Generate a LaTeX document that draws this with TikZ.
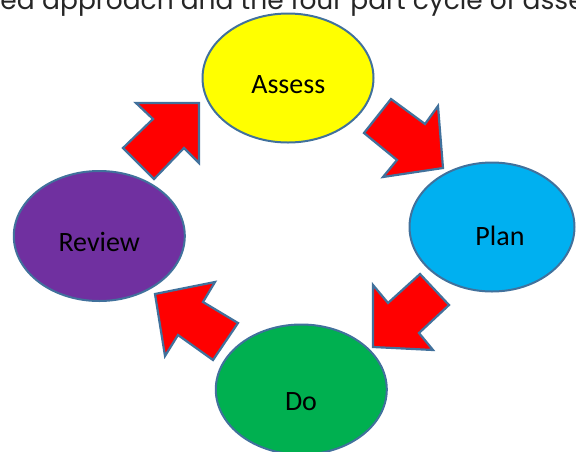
\documentclass[tikz,border=0pt]{standalone}
\usepackage{fontspec}
\setmainfont{Carlito}
\newfontfamily\headfont{Poppins}
\usetikzlibrary{shapes.geometric}
\definecolor{outl}{HTML}{41719C}
\definecolor{cyellow}{HTML}{FFFF00}
\definecolor{cblue}{HTML}{00B0F0}
\definecolor{cpurple}{HTML}{7030A0}
\definecolor{cgreen}{HTML}{00B050}
\definecolor{cred}{HTML}{FF0000}
\tikzset{
  stage/.style={ellipse, draw=outl, line width=2pt, inner sep=0pt},
  stagetext/.style={anchor=base, font=\fontsize{28}{30}\selectfont, text=black, inner sep=0pt},
  blockarrow/.style={draw=outl, fill=cred, line width=2.2pt, line join=miter},
  headtext/.style={anchor=base west, font=\headfont\fontsize{26.5}{30}\selectfont, text=black!85, inner sep=0pt}
}
\begin{document}
\begin{tikzpicture}[x=1pt,y=-1pt]
\useasboundingbox (0,0) rectangle (576,451);
\begin{scope}
\clip (0,0) rectangle (576,451);
% header line, cut off at the top of the page
\node[headtext, anchor=base east] (h0) at (35,9) {graduated};
\node[headtext] (h1) at (42,9) {approach and the four part cycle of assess};
% ellipses
\node[stage, fill=cyellow, minimum width=171pt, minimum height=129pt] (assess) at (288,78) {};
\node[stage, fill=cblue, minimum width=165pt, minimum height=129pt] (plan) at (492,227) {};
\node[stage, fill=cpurple, minimum width=171pt, minimum height=130pt] (review) at (99.3,236) {};
\node[stage, fill=cgreen, minimum width=171pt, minimum height=130pt] (do) at (301.3,389.5) {};
\node[stagetext] (assesst) at (288.3,93.3) {Assess};
\node[stagetext] (plant) at (500,245) {Plan};
\node[stagetext] (reviewt) at (99.2,251.7) {Review};
\node[stagetext] (dot) at (301,410) {Do};
% block arrows
\draw[blockarrow] (364,133) -- (391,99) -- (425,124) -- (438,106) -- (443,168) -- (383,177) -- (397,160) -- cycle;
\draw[blockarrow] (373,347) -- (373,285) -- (388,303) -- (420,274) -- (449,305) -- (419,333) -- (433,350) -- cycle;
\draw[blockarrow] (155,294) -- (215,282) -- (203,302) -- (238,323) -- (213,360) -- (178,335) -- (165,356) -- cycle;
\draw[blockarrow] (199,103) -- (136,103) -- (153,119) -- (123,148) -- (154,179) -- (184,148) -- (199,163) -- cycle;
\end{scope}
\end{tikzpicture}
\end{document}
